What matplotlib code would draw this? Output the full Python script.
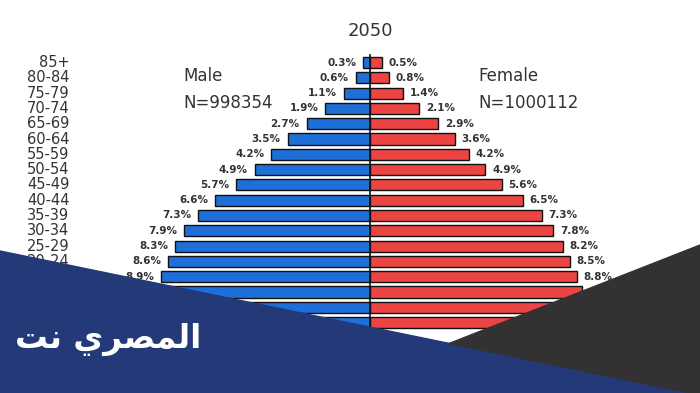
import matplotlib.pyplot as plt
from matplotlib.patches import Polygon

ages = ['85+', '80-84', '75-79', '70-74', '65-69', '60-64', '55-59', '50-54',
        '45-49', '40-44', '35-39', '30-34', '25-29', '20-24', '15-19', '10-14',
        '5-9', '0-4']
male = [0.3, 0.6, 1.1, 1.9, 2.7, 3.5, 4.2, 4.9, 5.7, 6.6, 7.3, 7.9, 8.3, 8.6,
        8.9, 9.1, 9.2, 9.3]
female = [0.5, 0.8, 1.4, 2.1, 2.9, 3.6, 4.2, 4.9, 5.6, 6.5, 7.3, 7.8, 8.2, 8.5,
          8.8, 9.0, 9.0, 9.1]
title = '2050'
male_n = 'N=998354'
female_n = 'N=1000112'
brand = 'المصري نت'

W, H = 700, 393
BLUE = '#1f6fd8'
RED = '#ec4343'
TXT = '#333333'
# rows whose labels are still visible above the banner
AGE_ROWS, VALUE_ROWS = 14, 15

# --- tiny arabic shaper (matplotlib has no bidi / joining support) ---
FORMS = {  # isolated, final, initial, medial
    'ا': ('\ufe8d', '\ufe8e', None, None),
    'ل': ('\ufedd', '\ufede', '\ufedf', '\ufee0'),
    'م': ('\ufee1', '\ufee2', '\ufee3', '\ufee4'),
    'ص': ('\ufeb9', '\ufeba', '\ufebb', '\ufebc'),
    'ر': ('\ufead', '\ufeae', None, None),
    'ي': ('\ufef1', '\ufef2', '\ufef3', '\ufef4'),
    'ن': ('\ufee5', '\ufee6', '\ufee7', '\ufee8'),
    'ت': ('\ufe95', '\ufe96', '\ufe97', '\ufe98'),
}


def shape(text):
    out = []
    for i, ch in enumerate(text):
        if ch not in FORMS:
            out.append(ch)
            continue
        prev = text[i - 1] if i > 0 else ''
        nxt = text[i + 1] if i + 1 < len(text) else ''
        join_prev = prev in FORMS and FORMS[prev][2] is not None
        join_next = nxt in FORMS and FORMS[ch][2] is not None
        iso, fin, ini, med = FORMS[ch]
        if join_prev and join_next:
            out.append(med)
        elif join_prev:
            out.append(fin)
        elif join_next:
            out.append(ini)
        else:
            out.append(iso)
    return ''.join(out)[::-1]


fig = plt.figure(figsize=(W / 100, H / 100), dpi=100)
fig.patch.set_facecolor('white')

# pixel mapping: centre line at x=370, 23.5 px per percent; row 0 at y=62.5, 15.3 px per row
cx, px_pct = 370, 23.5
y0, px_row = 62.5, 15.3
ax = fig.add_axes([0, 0, 1, 1])
ax.set_xlim(-cx / px_pct, (W - cx) / px_pct)
ax.set_ylim((H - y0) / px_row, -y0 / px_row)
ax.axis('off')

rows = list(range(len(ages)))
ax.barh(rows, [-m for m in male], height=0.72, color=BLUE, edgecolor='#111111', lw=1)
ax.barh(rows, female, height=0.72, color=RED, edgecolor='#111111', lw=1)
ax.plot([0, 0], [-0.5, len(ages) - 0.4], color='#111111', lw=1.2)

for i, (a, m, f) in enumerate(zip(ages, male, female)):
    if i < AGE_ROWS:
        ax.annotate(a, xy=(0, i), xycoords=('figure pixels', 'data'), xytext=(50, 0),
                    textcoords='offset points', ha='right', va='center',
                    fontsize=10.5, color=TXT)
    if i < VALUE_ROWS:
        ax.annotate(f'{m}%', xy=(-m, i), xytext=(-5, 0), textcoords='offset points',
                    ha='right', va='center', fontsize=7.5, fontweight='bold', color=TXT)
        ax.annotate(f'{f}%', xy=(f, i), xytext=(5, 0), textcoords='offset points',
                    ha='left', va='center', fontsize=7.5, fontweight='bold', color=TXT)

ax.text(0, (31 - y0) / px_row, title, ha='center', va='center', fontsize=13, color=TXT)
ax.text((183 - cx) / px_pct, (76 - y0) / px_row, 'Male', ha='left', va='center',
        fontsize=12, color=TXT)
ax.text((183 - cx) / px_pct, (103 - y0) / px_row, male_n, ha='left', va='center',
        fontsize=12, color=TXT)
ax.text((478 - cx) / px_pct, (76 - y0) / px_row, 'Female', ha='left', va='center',
        fontsize=12, color=TXT)
ax.text((478 - cx) / px_pct, (103 - y0) / px_row, female_n, ha='left', va='center',
        fontsize=12, color=TXT)

# watermark banner on top
ov = fig.add_axes([0, 0, 1, 1], zorder=5)
ov.set_xlim(0, W)
ov.set_ylim(H, 0)
ov.axis('off')
ov.add_patch(Polygon([(0, 251), (W, 395), (W, H + 5), (0, H + 5)], color='#243a78'))
ov.add_patch(Polygon([(449, 343.5), (W, 245), (W, 395)], color='#333132'))
ov.text(108, 339, shape(brand), ha='center', va='center', fontsize=23.5,
        fontweight='bold', color='white', family='DejaVu Sans')

fig.savefig('out.png', dpi=100)
